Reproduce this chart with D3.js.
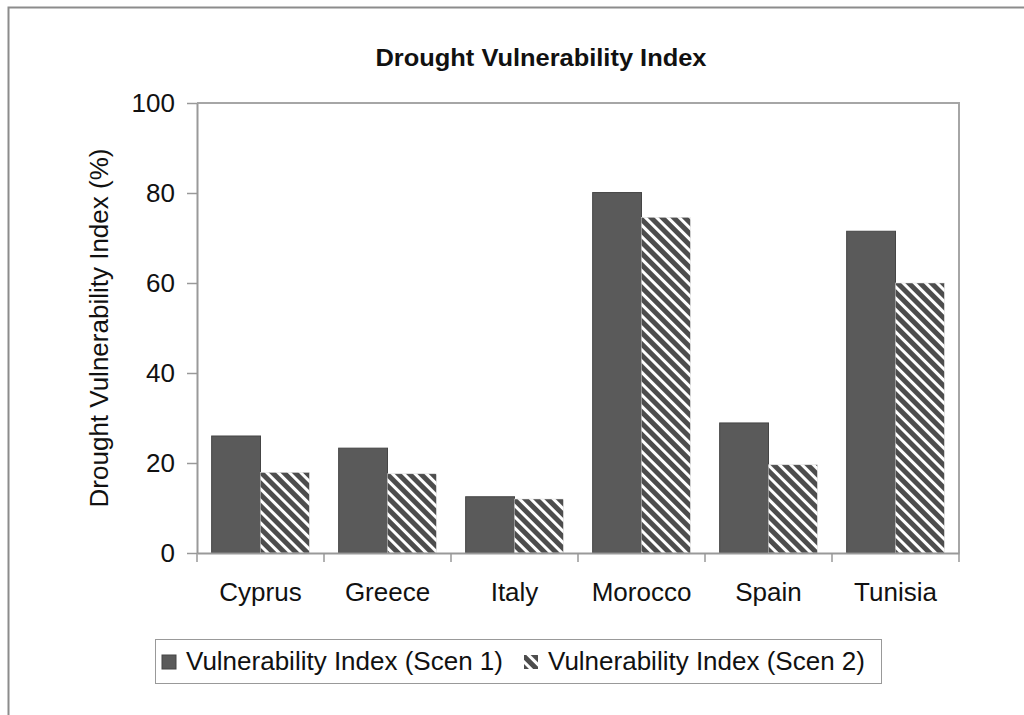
<!DOCTYPE html>
<html><head><meta charset="utf-8">
<script src="https://cdn.jsdelivr.net/npm/d3@7"></script>
<style>body{margin:0;background:#fff;}svg{display:block;font-family:"Liberation Sans",Arial,sans-serif;}</style>
</head><body>
<svg id="c" width="1024" height="715"></svg>
<script>
const categories = ["Cyprus","Greece","Italy","Morocco","Spain","Tunisia"];
const scen1 = [26.0, 23.3, 12.5, 80.1, 28.9, 71.5];
const scen2 = [17.9, 17.6, 12.0, 74.6, 19.6, 60.0];
const seriesNames = ["Vulnerability Index (Scen 1)","Vulnerability Index (Scen 2)"];
const yTicks = [0,20,40,60,80,100];

const svg = d3.select("#c");
const m = {l:197, r:959, t:103, b:553};
const FS = 26;

// outer frame
svg.append("rect").attr("x",8.5).attr("y",7.5).attr("width",1030).attr("height",720)
  .attr("fill","none").attr("stroke","#8c8c8c").attr("stroke-width",2);

const defs = svg.append("defs");
const pat = defs.append("pattern").attr("id","hatch").attr("patternUnits","userSpaceOnUse")
  .attr("width",8).attr("height",8).attr("patternTransform","rotate(45)");
pat.append("rect").attr("width",8).attr("height",8).attr("fill","#4d4d4d");
pat.append("rect").attr("y",0).attr("width",8).attr("height",3).attr("fill","#ffffff");

const x = d3.scaleBand().domain(categories).range([m.l,m.r]).paddingInner(0).paddingOuter(0);
const x1 = d3.scaleBand().domain([0,1]).range([0,x.bandwidth()]).paddingOuter(0.3).paddingInner(0);
const y = d3.scaleLinear().domain([0,100]).range([m.b,m.t]);

// plot border top/right
svg.append("path").attr("d",`M${m.l},${m.t}H${m.r}V${m.b}`).attr("fill","none").attr("stroke","#a6a6a6").attr("stroke-width",2);

// bars
const data = categories.map((c,i)=>({c, v:[scen1[i],scen2[i]]}));
const g = svg.append("g");
data.forEach(d=>{
  g.append("rect").attr("x",x(d.c)+x1(0)).attr("y",y(d.v[0])).attr("width",x1.bandwidth()).attr("height",y(0)-y(d.v[0]))
    .attr("fill","#5a5a5a").attr("stroke","#454545").attr("stroke-width",1);
  g.append("rect").attr("x",x(d.c)+x1(1)).attr("y",y(d.v[1])).attr("width",x1.bandwidth()).attr("height",y(0)-y(d.v[1]))
    .attr("fill","url(#hatch)").attr("stroke","#dddddd").attr("stroke-width",0.5);
});

// y axis
const ya = svg.append("g").attr("transform",`translate(${m.l},0)`)
  .call(d3.axisLeft(y).tickValues(yTicks).tickSize(10).tickPadding(12).tickSizeOuter(0));
ya.select(".domain").attr("stroke","#999").attr("stroke-width",2);
ya.selectAll(".tick line").attr("stroke","#999").attr("stroke-width",1.5);
ya.selectAll("text").attr("font-size",FS).attr("fill","#111").attr("font-family","Liberation Sans, Arial, sans-serif");

// x axis
const xa = svg.append("g").attr("transform",`translate(0,${m.b})`)
  .call(d3.axisBottom(x).tickSize(0).tickPadding(30).tickSizeOuter(0));
xa.select(".domain").attr("stroke","#999").attr("stroke-width",2);
xa.selectAll("text").attr("font-size",FS).attr("fill","#111").attr("font-family","Liberation Sans, Arial, sans-serif");
// category boundary ticks
const bounds = categories.map(c=>x(c)).concat([m.r]);
svg.append("g").selectAll("line").data(bounds).join("line")
  .attr("x1",d=>d).attr("x2",d=>d).attr("y1",m.b).attr("y2",m.b+9).attr("stroke","#999").attr("stroke-width",1.5);

// title
svg.append("text").attr("x",541).attr("y",66).attr("text-anchor","middle")
  .attr("font-size",24).attr("font-weight","bold").attr("fill","#111")
  .attr("textLength",331).attr("lengthAdjust","spacingAndGlyphs").text("Drought Vulnerability Index");

// y title
svg.append("text").attr("transform",`translate(108,${(m.t+m.b)/2}) rotate(-90)`).attr("text-anchor","middle")
  .attr("font-size",FS).attr("fill","#111").text("Drought Vulnerability Index (%)");

// legend
const lg = svg.append("g");
lg.append("rect").attr("x",155.5).attr("y",639.5).attr("width",726).attr("height",44).attr("fill","#fff").attr("stroke","#999").attr("stroke-width",1);
lg.append("rect").attr("x",162).attr("y",655).attr("width",14).attr("height",14).attr("fill","#5a5a5a").attr("stroke","#454545");
lg.append("text").attr("x",186).attr("y",670).attr("font-size",FS).attr("fill","#111").text(seriesNames[0]);
lg.append("rect").attr("x",524).attr("y",655).attr("width",14).attr("height",14).attr("fill","url(#hatch)");
lg.append("text").attr("x",548).attr("y",670).attr("font-size",FS).attr("fill","#111").text(seriesNames[1]);
</script>
</body></html>
